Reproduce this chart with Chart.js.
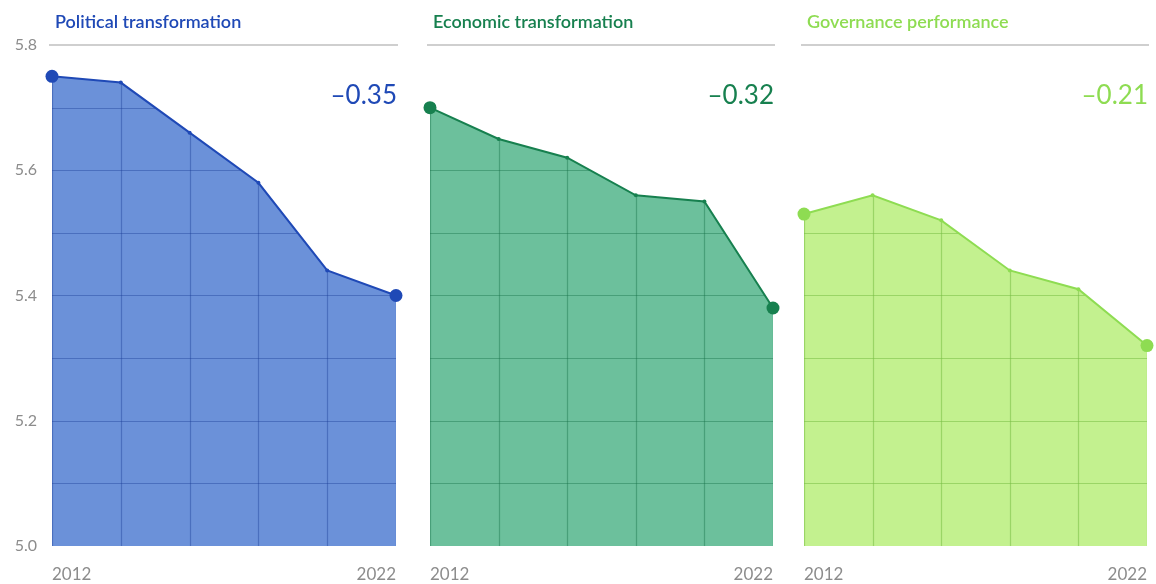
<!DOCTYPE html>
<html>
<head>
<meta charset="utf-8">
<script src="https://cdn.jsdelivr.net/npm/chart.js@4.4.1/dist/chart.umd.min.js"></script>
<style>
    body { margin: 0; background: #fff; }
    #wrap { position: relative; width: 1156px; height: 584px; }
    canvas { position: absolute; left: 0; top: 0; }
</style>
</head>
<body>
<div id="wrap">
    <canvas id="c1" width="1156" height="584"></canvas>
    <canvas id="c2" width="1156" height="584"></canvas>
    <canvas id="c3" width="1156" height="584"></canvas>
</div>
<script>
var years           = ['2012', '2014', '2016', '2018', '2020', '2022'];
var political_vals  = [5.75, 5.74, 5.66, 5.58, 5.44, 5.40];
var economic_vals   = [5.70, 5.65, 5.62, 5.56, 5.55, 5.38];
var governance_vals = [5.53, 5.56, 5.52, 5.44, 5.41, 5.32];
var y_ticks         = [5.0, 5.2, 5.4, 5.6, 5.8];

// grid inside the filled area only, plus titles and the change value
var panelDecor = {
    id: 'panelDecor',
    beforeDatasetDraw: function(chart, args, opts){
        var meta = chart.getDatasetMeta(0);
        var area = chart.chartArea;
        var xs = chart.scales.x, ys = chart.scales.y;
        var ctx = chart.ctx;
        ctx.save();
        ctx.beginPath();
        meta.data.forEach(function(p, i){
            if (i === 0) ctx.moveTo(p.x, p.y); else ctx.lineTo(p.x, p.y);
        });
        ctx.lineTo(meta.data[meta.data.length - 1].x, area.bottom);
        ctx.lineTo(meta.data[0].x, area.bottom);
        ctx.closePath();
        ctx.clip();
        ctx.strokeStyle = opts.gridColor;
        ctx.lineWidth = 1.2;
        for (var v = 0; v <= 8; v++){
            var y = Math.round(ys.getPixelForValue(5 + v / 10)) + 0.5;
            ctx.beginPath(); ctx.moveTo(area.left, y); ctx.lineTo(area.right, y); ctx.stroke();
        }
        years.forEach(function(l, i){
            var x = Math.round(xs.getPixelForValue(i)) + 0.5;
            ctx.beginPath(); ctx.moveTo(x, area.top); ctx.lineTo(x, area.bottom); ctx.stroke();
        });
        ctx.restore();
    },
    afterDraw: function(chart, args, opts){
        var area = chart.chartArea;
        var ys = chart.scales.y;
        var ctx = chart.ctx;
        var vals = chart.data.datasets[0].data;
        ctx.save();
        // top rule at 5.8
        var top = ys.getPixelForValue(5.8);
        ctx.strokeStyle = '#cfcfcf';
        ctx.lineWidth = 2;
        ctx.beginPath(); ctx.moveTo(area.left - 3, top); ctx.lineTo(area.right + 2, top); ctx.stroke();
        // title
        ctx.fillStyle = opts.color;
        ctx.font = '600 18px Lato';
        ctx.textAlign = 'left';
        ctx.textBaseline = 'middle';
        ctx.fillText(opts.title, area.left + 3, 22);
        // change from first to last year
        var diff = (vals[vals.length - 1] - vals[0]).toFixed(2).replace('-', '\u2013');
        ctx.font = '26px Lato';
        ctx.textAlign = 'right';
        ctx.fillText(diff, area.right + 1, 96);
        ctx.restore();
    }
};

function makePanel(id, values, title, line, fill, grid, pad, showY){
    var last = values.length - 1;
    var config = {
        type: 'line',
        data: {
            labels: years,
            datasets: [{
                data: values,
                borderColor: line,
                backgroundColor: fill,
                borderWidth: 2,
                fill: 'start',
                tension: 0,
                clip: false,
                pointBackgroundColor: line,
                pointBorderWidth: 0,
                pointRadius: function(c){ return (c.dataIndex === 0 || c.dataIndex === last) ? 6.5 : 2; }
            }]
        },
        options: {
            responsive: false,
            animation: false,
            layout: { padding: { left: pad[0], right: pad[1], top: 45, bottom: 0 } },
            plugins: {
                legend: { display: false },
                tooltip: { enabled: false },
                filler: { drawTime: 'beforeDatasetsDraw' },
                panelDecor: { title: title, color: line, gridColor: grid }
            },
            scales: {
                x: {
                    grid: { display: false, drawTicks: false },
                    border: { display: false },
                    afterFit: function(s){ s.height = 38; s.paddingLeft = 0; s.paddingRight = 0; },
                    ticks: {
                        autoSkip: false,
                        maxRotation: 0,
                        align: 'inner',
                        padding: 18,
                        color: '#8c8c8c',
                        font: { family: 'Lato', size: 17 },
                        callback: function(v, i){ return (i === 0 || i === last) ? years[i] : ''; }
                    }
                },
                y: {
                    display: showY,
                    min: 5.0,
                    max: 5.8,
                    grid: { display: false, drawTicks: false },
                    border: { display: false },
                    afterFit: function(s){ s.width = showY ? 52 : 0; },
                    afterBuildTicks: function(s){ s.ticks = y_ticks.map(function(v){ return { value: v }; }); },
                    ticks: {
                        padding: 15,
                        color: '#8c8c8c',
                        font: { family: 'Lato', size: 16 },
                        callback: function(v){ return v.toFixed(1); }
                    }
                }
            }
        },
        plugins: [panelDecor]
    };
    return new Chart(document.getElementById(id), config);
}

makePanel('c1', political_vals, 'Political transformation', '#1f49b6', '#6b91d9', 'rgba(25,60,150,0.4)', [0, 760], true);
makePanel('c2', economic_vals, 'Economic transformation', '#17804f', '#6cc09c', 'rgba(20,110,70,0.4)', [430, 383], false);
makePanel('c3', governance_vals, 'Governance performance', '#8edc52', '#c3f18f', 'rgba(120,190,70,0.55)', [804, 9], false);
</script>
</body>
</html>
